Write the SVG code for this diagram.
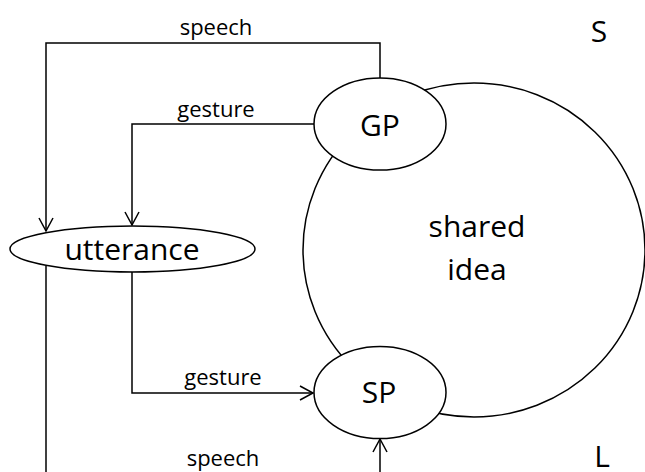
<svg xmlns="http://www.w3.org/2000/svg" width="645" height="472" viewBox="0 0 645 472">
  <style>
    .shape { fill: #ffffff; stroke: #000000; stroke-width: 1.5; }
    .wire { fill: none; stroke: #000000; stroke-width: 1.5; }
    .big { font-family: "Open Sans", "Noto Sans", sans-serif; font-size: 30px; fill: #000000; text-anchor: middle; }
    .lbl { font-family: "Open Sans", "Noto Sans", sans-serif; font-size: 22px; fill: #000000; text-anchor: middle; }
  </style>
  <defs>
    <marker id="open-arrow" markerUnits="userSpaceOnUse" markerWidth="16" markerHeight="18" refX="14" refY="8" orient="auto" overflow="visible">
      <path d="M 1 1 L 14 8 L 1 15" fill="none" stroke="#000000" stroke-width="1.5"/>
    </marker>
  </defs>

  <rect x="0" y="0" width="645" height="472" fill="#ffffff"/>

  <!-- shared idea -->
  <g id="shared-idea">
    <ellipse class="shape" cx="474" cy="250" rx="171" ry="167"/>
    <text class="big" x="477" y="237">shared</text>
    <text class="big" x="477" y="280">idea</text>
  </g>

  <!-- connectors -->
  <g id="connectors">
    <polyline class="wire" points="380,78 380,43 46,43 46,231" marker-end="url(#open-arrow)"/>
    <polyline class="wire" points="314,124 132,124 132,225" marker-end="url(#open-arrow)"/>
    <polyline class="wire" points="132,272 132,393 313,393" marker-end="url(#open-arrow)"/>
    <polyline class="wire" points="46,266 46,474"/>
    <polyline class="wire" points="380,474 380,439" marker-end="url(#open-arrow)"/>
    <text class="lbl" x="216" y="35">speech</text>
    <text class="lbl" x="216" y="117">gesture</text>
    <text class="lbl" x="223" y="385">gesture</text>
    <text class="lbl" x="223" y="466">speech</text>
  </g>

  <g id="gp">
    <ellipse class="shape" cx="380" cy="124" rx="66" ry="46"/>
    <text class="big" x="380" y="136">GP</text>
  </g>

  <g id="sp">
    <ellipse class="shape" cx="380" cy="392.5" rx="66" ry="46"/>
    <text class="big" x="379" y="403">SP</text>
  </g>

  <g id="utterance">
    <ellipse class="shape" cx="132.5" cy="249" rx="122.5" ry="23"/>
    <text class="big" x="132" y="260">utterance</text>
  </g>

  <g id="side-labels">
    <text class="big" x="599" y="42">S</text>
    <text class="big" x="602" y="467">L</text>
  </g>
</svg>
